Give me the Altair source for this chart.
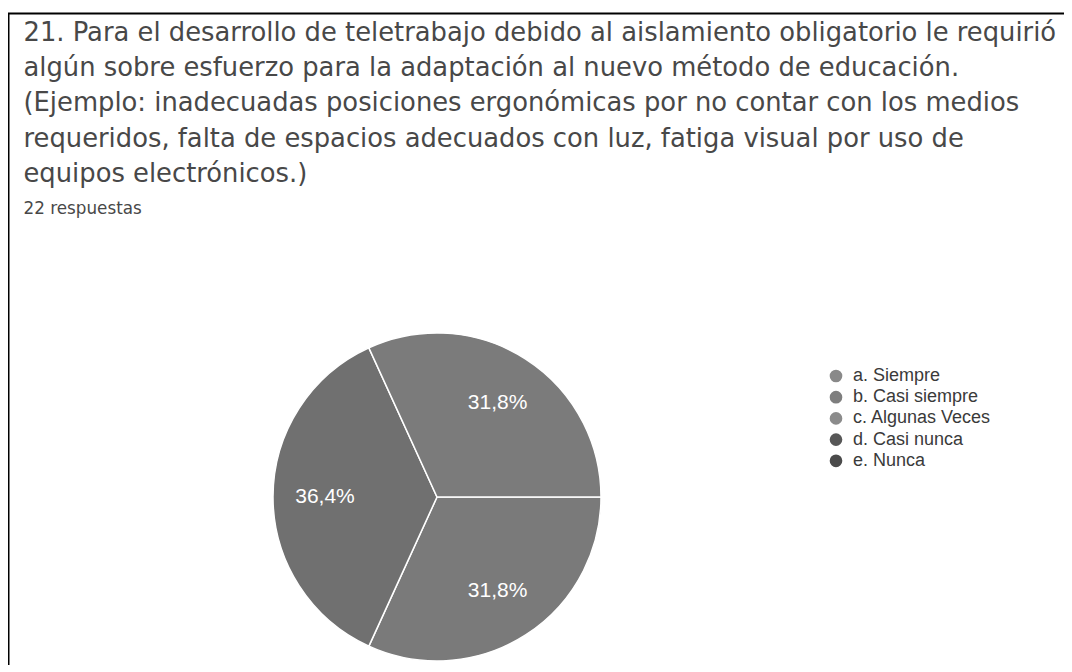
import math
import altair as alt
import pandas as pd

categories = ["a. Siempre", "b. Casi siempre", "c. Algunas Veces", "d. Casi nunca", "e. Nunca"]
counts = [7, 8, 7, 0, 0]
labels = ["31,8%", "36,4%", "31,8%", "", ""]
slice_colors = ["#7a7a7a", "#707070", "#7b7b7b", "#555555", "#4a4a4a"]
legend_colors = ["#898989", "#7e7e7e", "#8b8b8b", "#575757", "#4b4b4b"]
title_lines = [
    "21. Para el desarrollo de teletrabajo debido al aislamiento obligatorio le requirió",
    "algún sobre esfuerzo para la adaptación al nuevo método de educación.",
    "(Ejemplo: inadecuadas posiciones ergonómicas por no contar con los medios",
    "requeridos, falta de espacios adecuados con luz, fatiga visual por uso de",
    "equipos electrónicos.)",
]
subtitle = "22 respuestas"

df = pd.DataFrame({"cat": categories, "count": counts, "label": labels, "ord": list(range(len(categories)))})
pie_df = df[df["count"] > 0]

CX, CY = 413, 272
theta_scale = alt.Scale(range=[math.pi / 2, math.pi / 2 + 2 * math.pi])

border = alt.Chart(pd.DataFrame({"k": [0]})).mark_rect(
    filled=False, stroke="black", strokeWidth=2
).encode(
    x=alt.value(-15.5), x2=alt.value(1060), y=alt.value(-211.5), y2=alt.value(470)
)

legend_layer = alt.Chart(df).mark_circle(size=10, opacity=1).encode(
    x=alt.value(CX), y=alt.value(CY),
    color=alt.Color(
        "cat:N",
        scale=alt.Scale(domain=categories, range=legend_colors),
        legend=alt.Legend(
            orient="none", legendX=803, legendY=142, title=None,
            symbolType="circle", symbolSize=160, symbolStrokeWidth=0, symbolOpacity=1,
            labelFont="Liberation Sans", labelFontSize=18, labelColor="#3a3a3a",
            rowPadding=3.2, labelOffset=8,
        ),
    ),
)

arcs = alt.Chart(pie_df).mark_arc(outerRadius=164, stroke="white", strokeWidth=1.5).encode(
    theta=alt.Theta("count:Q", stack=True, scale=theta_scale),
    color=alt.Color("cat:N", scale=alt.Scale(domain=categories, range=slice_colors), legend=None),
    order=alt.Order("ord:Q"),
    x=alt.value(CX), y=alt.value(CY),
)

texts = alt.Chart(pie_df).mark_text(
    radius=112, font="Liberation Sans", fontSize=21, color="white"
).encode(
    theta=alt.Theta("count:Q", stack=True, scale=theta_scale),
    text="label:N",
    order=alt.Order("ord:Q"),
    x=alt.value(CX), y=alt.value(CY),
)

chart = alt.layer(border, legend_layer, arcs, texts).resolve_scale(
    color="independent"
).properties(
    width=1040, height=440,
    autosize=alt.AutoSizeParams(type="none"),
    padding={"left": 16, "top": 217, "right": 0, "bottom": 0},
    title=alt.Title(
        text=title_lines, subtitle=subtitle, anchor="start",
        font="DejaVu Sans", fontSize=25.8, fontWeight="normal", color="#484848", lineHeight=35.2,
        subtitleFont="DejaVu Sans", subtitleFontSize=16.8, subtitleColor="#484848",
        subtitlePadding=13, offset=10, dx=16, dy=216,
    ),
).configure(background="white").configure_view(stroke="transparent", strokeWidth=0)

chart.save("out.html", embed_options={"renderer": "svg", "actions": False})
